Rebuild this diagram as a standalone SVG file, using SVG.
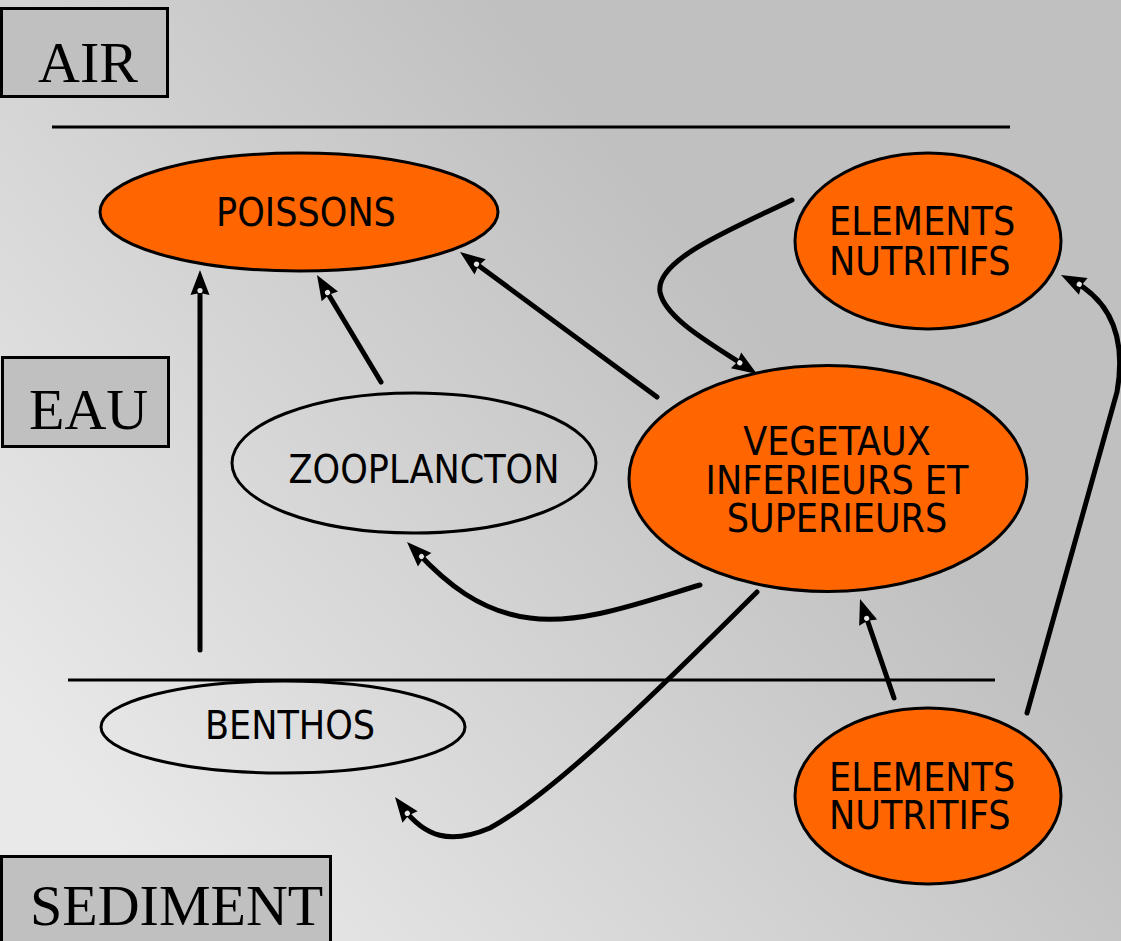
<svg xmlns="http://www.w3.org/2000/svg" xmlns:xlink="http://www.w3.org/1999/xlink" width="1121" height="941" viewBox="0 0 1121 941">
<defs>
<linearGradient id="bg" x1="0" y1="0.75" x2="0.65" y2="0.3">
<stop offset="0" stop-color="#e9e9e9"/>
<stop offset="1" stop-color="#c0c0c0"/>
</linearGradient>
<g id="ah">
<path d="M0,0 L-25,-9.5 L-23,0 L-25,9.5 Z" fill="#000"/>
<circle cx="-20.5" cy="0" r="2.6" fill="#e4e4e4"/>
</g>
<style>
.zone{fill:#c0c0c0;stroke:#000;stroke-width:3}
.zt{font-family:"Liberation Serif","Times New Roman",serif;font-size:58px;fill:#000}
.hl{stroke:#000;stroke-width:3;fill:none}
.on{fill:#ff6600;stroke:#000;stroke-width:3}
.gn{fill:none;stroke:#000;stroke-width:3}
.nt{font-family:"DejaVu Sans Condensed","DejaVu Sans",sans-serif;font-stretch:condensed;font-size:39px;fill:#000}
.c{stroke:#000;stroke-width:5;fill:none;stroke-linecap:round}
</style>
</defs>
<rect width="1121" height="941" fill="url(#bg)"/>
<g id="air"><rect class="zone" x="1.5" y="8.5" width="166" height="88"/><text class="zt" x="38" y="82">AIR</text></g>
<g id="eau"><rect class="zone" x="2.5" y="357.5" width="166" height="89"/><text class="zt" x="29" y="429">EAU</text></g>
<g id="sediment"><rect class="zone" x="1.5" y="856.5" width="329" height="100"/><text class="zt" x="30" y="925">SEDIMENT</text></g>
<g id="lines">
<line class="hl" x1="52" y1="127" x2="1010" y2="127"/>
<line class="hl" x1="68" y1="680" x2="995" y2="680"/>
</g>
<g id="poissons"><ellipse class="on" cx="299" cy="212" rx="199" ry="59"/><text class="nt" x="306" y="226" text-anchor="middle">POISSONS</text></g>
<g id="elements-top"><ellipse class="on" cx="928" cy="241" rx="133" ry="88"/><text class="nt" x="829" y="235">ELEMENTS</text><text class="nt" x="829" y="275">NUTRITIFS</text></g>
<g id="vegetaux"><ellipse class="on" cx="828" cy="478.5" rx="199" ry="113"/><text class="nt" x="837" y="455" text-anchor="middle">VEGETAUX</text><text class="nt" x="837" y="494" text-anchor="middle">INFERIEURS ET</text><text class="nt" x="837" y="532" text-anchor="middle">SUPERIEURS</text></g>
<g id="zooplancton"><ellipse class="gn" cx="414" cy="463" rx="182" ry="70"/><text class="nt" x="424" y="483" text-anchor="middle">ZOOPLANCTON</text></g>
<g id="benthos"><ellipse class="gn" cx="283" cy="727" rx="182" ry="46"/><text class="nt" x="290" y="739" text-anchor="middle">BENTHOS</text></g>
<g id="elements-bottom"><ellipse class="on" cx="928" cy="796" rx="133" ry="88"/><text class="nt" x="829" y="791">ELEMENTS</text><text class="nt" x="829" y="829">NUTRITIFS</text></g>
<g id="connectors">
<path class="c" d="M200,650 L200,284"/>
<use xlink:href="#ah" href="#ah" transform="translate(200,270) rotate(-90)"/>
<path class="c" d="M381,382 L324,287"/>
<use xlink:href="#ah" href="#ah" transform="translate(317,275) rotate(-120.9)"/>
<path class="c" d="M657,397 L471,260"/>
<use xlink:href="#ah" href="#ah" transform="translate(460,252) rotate(-143.6)"/>
<path class="c" d="M792,200 C730,230 655,260 660,292 C665,318 710,343 745,366"/>
<use xlink:href="#ah" href="#ah" transform="translate(757,374) rotate(33)"/>
<path class="c" d="M700,585 C640,603 580,625 530,618 C480,612 445,582 417,552"/>
<use xlink:href="#ah" href="#ah" transform="translate(407,542) rotate(-135)"/>
<path class="c" d="M757,592 C680,668 560,790 490,828 C450,845 425,837 403,808"/>
<use xlink:href="#ah" href="#ah" transform="translate(395,797) rotate(-127)"/>
<path class="c" d="M894,698 L864.5,612"/>
<use xlink:href="#ah" href="#ah" transform="translate(860,599) rotate(-109)"/>
<path class="c" d="M1027,713 L1117,392 C1126,340 1112,302 1073,281"/>
<use xlink:href="#ah" href="#ah" transform="translate(1061,275) rotate(-153)"/>
</g>
</svg>
